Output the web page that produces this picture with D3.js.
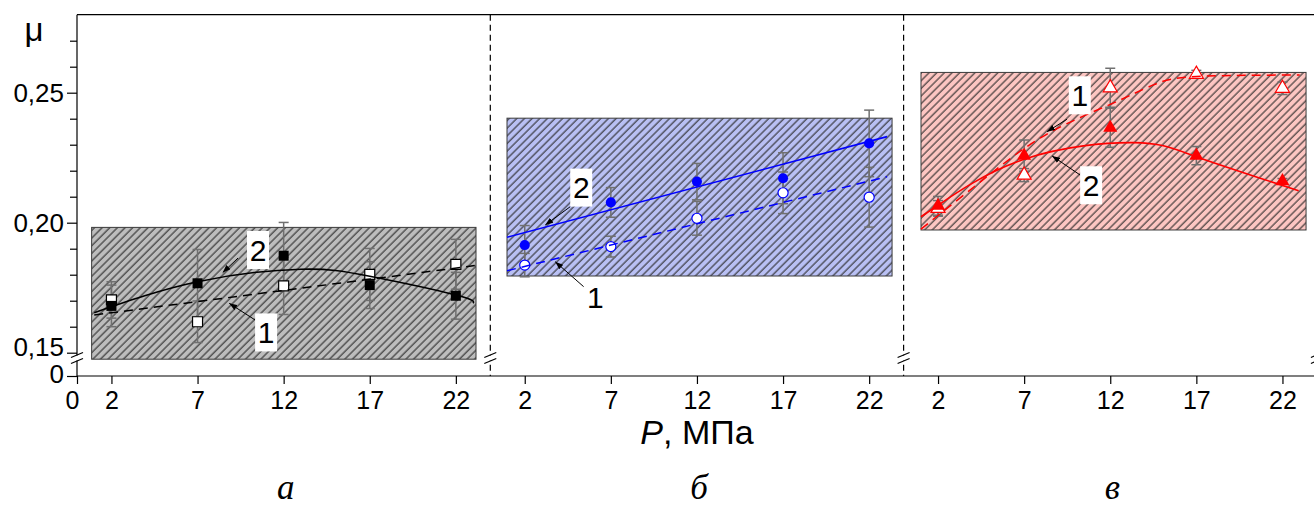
<!DOCTYPE html>
<html>
<head>
<meta charset="utf-8">
<script src="https://cdn.jsdelivr.net/npm/d3@7"></script>
<style>
    body { margin: 0; background: #fff; }
    svg { display: block; font-family: "Liberation Sans", Arial, sans-serif; }
</style>
</head>
<body>
<svg id="chart" width="1314" height="508"></svg>
<script>
// pressure points, MPa
const pressure = [2, 7, 12, 17, 22];
const xTickValues = [2, 7, 12, 17, 22];
const yMajorTicks = [0.15, 0.20, 0.25];
const yMinorTicks = [0.16, 0.17, 0.18, 0.19, 0.21, 0.22, 0.23, 0.24, 0.26, 0.27];
const panelLetters = ['а', 'б', 'в'];

// panel a (gray): 1 = open squares, 2 = filled squares
const muA1 = [0.1703, 0.1619, 0.1757, 0.1801, 0.1840];
const errA1 = [0.0070, 0.0080, 0.0110, 0.0100, 0.0096];
const muA2 = [0.1680, 0.1767, 0.1873, 0.1760, 0.1719];
const errA2 = [0.0080, 0.0130, 0.0128, 0.0090, 0.0090];
const fitA1 = [[1.0, 0.1645], [23.1, 0.1835]];
const fitA2 = [[1.0, 0.1654], [7, 0.1773], [13, 0.1821], [17, 0.1794], [22, 0.1722], [23, 0.1690]];
const bandA = [0.85, 23.17, 0.1475, 0.1982];

// panel b (blue): 1 = open circles, 2 = filled circles
const muB1 = [0.1837, 0.1908, 0.2017, 0.2115, 0.2098];
const errB1 = [0.0045, 0.0040, 0.0065, 0.0080, 0.0115];
const muB2 = [0.1914, 0.2078, 0.2158, 0.2171, 0.2305];
const errB2 = [0.0075, 0.0057, 0.0070, 0.0098, 0.0128];
const fitB1 = [[0.97, 0.1815], [23.04, 0.2177]];
const fitB2 = [[0.97, 0.1944], [23.04, 0.2331]];
const bandB = [0.97, 23.33, 0.1795, 0.2402];

// panel c (red): 1 = open triangles, 2 = filled triangles
const muC1 = [0.2055, 0.2183, 0.2519, 0.2571, 0.2517];
const errC1 = [0.0030, 0.0025, 0.0075, 0.0015, 0.0024];
const muC2 = [0.2065, 0.2258, 0.2365, 0.2258, 0.2160];
const errC2 = [0.0036, 0.0060, 0.0075, 0.0035, 0.0010];
const fitC1 = [[1.0, 0.1975], [4.84, 0.2177], [8.33, 0.2341], [12, 0.2455], [14.5, 0.2530], [17, 0.2562], [23, 0.2568]];
const fitC2 = [[1.0, 0.2023], [2, 0.2067], [7, 0.2244], [13.4, 0.2308], [17, 0.2254], [22.94, 0.2123]];
const bandC = [1.01, 23.37, 0.1972, 0.2578];

// curve labels: [text, P, mu] and arrows: [P from, mu from, P to, mu to]
const labelsA = [['2', 10.51, 0.1895], ['1', 10.98, 0.1578]];
const arrowsA = [[9.35, 0.1864, 8.46, 0.1808], [10.34, 0.1626, 8.84, 0.1690]];
const labelsB = [['2', 5.28, 0.2135], ['1', 6.10, 0.1715]];
const arrowsB = [[4.65, 0.2062, 3.19, 0.1991], [5.42, 0.1754, 3.77, 0.1850]];
const labelsC = [['1', 10.23, 0.2490], ['2', 10.89, 0.2144]];
const arrowsC = [[9.49, 0.2398, 8.33, 0.2350], [10.26, 0.2183, 8.62, 0.2257]];

const svg = d3.select('#chart');
const left = 77;
const panelW = 413.3;
const plotTop = 14.7;
const yBottom = 352.7;
const zeroY = 376;
const rightEdge = left + 3 * panelW;

const y = d3.scaleLinear().domain([0.15, 0.28]).range([yBottom, plotTop]);
const yZero = d3.scaleLinear().domain([0, 0.01]).range([zeroY, zeroY - 10]);

const defs = svg.append('defs');

function hatch(id, color) {
    const p = defs.append('pattern')
        .attr('id', id)
        .attr('patternUnits', 'userSpaceOnUse')
        .attr('width', 5.4)
        .attr('height', 10)
        .attr('patternTransform', 'rotate(45)');
    p.append('rect').attr('width', 5.4).attr('height', 10).attr('fill', color);
    p.append('line')
        .attr('x1', 1).attr('x2', 1).attr('y1', 0).attr('y2', 10)
        .attr('stroke', '#262626').attr('stroke-width', 1.05);
}

defs.append('marker')
    .attr('id', 'arrow')
    .attr('viewBox', '0 0 8 6')
    .attr('refX', 8).attr('refY', 3)
    .attr('markerWidth', 8).attr('markerHeight', 6)
    .attr('markerUnits', 'userSpaceOnUse')
    .attr('orient', 'auto')
    .append('path').attr('d', 'M0,0 L8,3 L0,6 Z').attr('fill', '#000');

const panels = [
    { id: 'hA', fill: '#bdbdbd', color: '#000', shape: d3.symbolSquare, size: 100,
      band: bandA, mu1: muA1, err1: errA1, mu2: muA2, err2: errA2, fit1: fitA1, fit2: fitA2,
      labels: labelsA, arrows: arrowsA },
    { id: 'hB', fill: '#b9c0f4', color: '#0000ff', shape: d3.symbolCircle, size: 80,
      band: bandB, mu1: muB1, err1: errB1, mu2: muB2, err2: errB2, fit1: fitB1, fit2: fitB2,
      labels: labelsB, arrows: arrowsB },
    { id: 'hC', fill: '#fdc6c2', color: '#ff0000', shape: d3.symbolTriangle, size: 85,
      band: bandC, mu1: muC1, err1: errC1, mu2: muC2, err2: errC2, fit1: fitC1, fit2: fitC2,
      labels: labelsC, arrows: arrowsC }
];

panels.forEach((pn, i) => {
    hatch(pn.id, pn.fill);
    const x0 = left + i * panelW;
    const x = d3.scaleLinear().domain([0, 24]).range([x0, x0 + panelW]);
    const g = svg.append('g');

    // hatched range box
    g.append('rect')
        .attr('x', x(pn.band[0]))
        .attr('y', y(pn.band[3]))
        .attr('width', x(pn.band[1]) - x(pn.band[0]))
        .attr('height', y(pn.band[2]) - y(pn.band[3]))
        .attr('fill', `url(#${pn.id})`)
        .attr('stroke', '#3a3a3a')
        .attr('stroke-width', 1);

    // error bars
    [[pn.mu1, pn.err1], [pn.mu2, pn.err2]].forEach(([mu, err]) => {
        const eg = g.append('g').attr('stroke', '#707070').attr('stroke-width', 1.5);
        pressure.forEach((p, k) => {
            const cx = x(p);
            const y1 = y(mu[k] - err[k]);
            const y2 = y(mu[k] + err[k]);
            eg.append('line').attr('x1', cx).attr('x2', cx).attr('y1', y1).attr('y2', y2);
            eg.append('line').attr('x1', cx - 5).attr('x2', cx + 5).attr('y1', y1).attr('y2', y1);
            eg.append('line').attr('x1', cx - 5).attr('x2', cx + 5).attr('y1', y2).attr('y2', y2);
        });
    });

    const sym = d3.symbol().type(pn.shape).size(pn.size);

    // series 1: open markers
    g.selectAll('.open')
        .data(pressure)
        .enter()
        .append('path')
        .attr('d', sym)
        .attr('transform', (p, k) => `translate(${x(p)},${y(pn.mu1[k])})`)
        .attr('fill', '#fff')
        .attr('stroke', pn.color)
        .attr('stroke-width', 1.2);

    // series 2: filled markers
    g.selectAll('.filled')
        .data(pressure)
        .enter()
        .append('path')
        .attr('d', sym)
        .attr('transform', (p, k) => `translate(${x(p)},${y(pn.mu2[k])})`)
        .attr('fill', pn.color);

    const line = d3.line()
        .x(d => x(d[0]))
        .y(d => y(d[1]))
        .curve(d3.curveNatural);

    g.append('path')
        .attr('d', line(pn.fit1))
        .attr('fill', 'none')
        .attr('stroke', pn.color)
        .attr('stroke-width', 1.5)
        .attr('stroke-dasharray', '9,6');

    g.append('path')
        .attr('d', line(pn.fit2))
        .attr('fill', 'none')
        .attr('stroke', pn.color)
        .attr('stroke-width', 1.6);

    // arrows and number labels
    pn.arrows.forEach(a => {
        g.append('line')
            .attr('x1', x(a[0])).attr('y1', y(a[1]))
            .attr('x2', x(a[2])).attr('y2', y(a[3]))
            .attr('stroke', '#000')
            .attr('stroke-width', 1)
            .attr('marker-end', 'url(#arrow)');
    });

    pn.labels.forEach(l => {
        const cx = x(l[1]);
        const cy = y(l[2]);
        g.append('rect')
            .attr('x', cx - 11).attr('y', cy - 19)
            .attr('width', 22).attr('height', 38)
            .attr('fill', '#fff');
        g.append('text')
            .attr('x', cx).attr('y', cy)
            .attr('dy', '0.36em')
            .attr('text-anchor', 'middle')
            .style('font-size', '30px')
            .text(l[0]);
    });

    // x axis ticks for this panel
    const ax = g.append('g')
        .attr('transform', `translate(0,${zeroY})`)
        .call(d3.axisBottom(x)
            .tickValues(i === 0 ? [0].concat(xTickValues) : xTickValues)
            .tickSize(8)
            .tickPadding(7));
    ax.select('.domain').remove();
    ax.selectAll('line').attr('stroke', '#000').attr('stroke-width', 1.2);
    ax.selectAll('text')
        .style('font-size', '25px')
        .attr('fill', '#000')
        .attr('dx', d => d === 0 ? '-5' : '0');

    // panel letter under the panel
    svg.append('text')
        .attr('x', x(12) + 2)
        .attr('y', 499)
        .attr('text-anchor', 'middle')
        .style('font-family', '"Liberation Serif", "Times New Roman", serif')
        .style('font-style', 'italic')
        .style('font-size', '35px')
        .text(panelLetters[i]);
});

// break marks on vertical lines
function breakMark(bx) {
    svg.append('rect')
        .attr('x', bx - 3).attr('y', 355.5)
        .attr('width', 6).attr('height', 5)
        .attr('fill', '#fff');
    [0, 6].forEach(off => {
        svg.append('line')
            .attr('x1', bx - 6).attr('y1', 357.5 + off)
            .attr('x2', bx + 6).attr('y2', 352.5 + off)
            .attr('stroke', '#000')
            .attr('stroke-width', 1.2);
    });
}

// frame: top line, dividers, x axis line
svg.append('line')
    .attr('x1', left).attr('x2', rightEdge)
    .attr('y1', plotTop).attr('y2', plotTop)
    .attr('stroke', '#000').attr('stroke-width', 1.2);

[1, 2].forEach(k => {
    svg.append('line')
        .attr('x1', left + k * panelW).attr('x2', left + k * panelW)
        .attr('y1', plotTop).attr('y2', zeroY)
        .attr('stroke', '#000')
        .attr('stroke-width', 1.2)
        .attr('stroke-dasharray', '6,4');
});

svg.append('line')
    .attr('x1', left).attr('x2', rightEdge)
    .attr('y1', zeroY).attr('y2', zeroY)
    .attr('stroke', '#000').attr('stroke-width', 1.2);

svg.append('line')
    .attr('x1', left).attr('x2', left)
    .attr('y1', plotTop).attr('y2', zeroY)
    .attr('stroke', '#000').attr('stroke-width', 1.2);

[0, 1, 2, 3].forEach(k => breakMark(left + k * panelW));

// y axis
const yAxis = svg.append('g')
    .attr('transform', `translate(${left},0)`)
    .call(d3.axisLeft(y)
        .tickValues(yMajorTicks)
        .tickSize(10)
        .tickPadding(3)
        .tickFormat(d => d3.format('.2f')(d).replace('.', ',')));
yAxis.select('.domain').remove();
yAxis.selectAll('text').attr('dy', d => d === 0.15 ? '0.12em' : '0.32em');

const yMinor = svg.append('g')
    .attr('transform', `translate(${left},0)`)
    .call(d3.axisLeft(y).tickValues(yMinorTicks).tickSize(7).tickFormat(''));
yMinor.select('.domain').remove();

const yAxisZero = svg.append('g')
    .attr('transform', `translate(${left},0)`)
    .call(d3.axisLeft(yZero).tickValues([0]).tickSize(10).tickPadding(3).tickFormat(d => '0'));
yAxisZero.select('.domain').remove();
yAxisZero.selectAll('text').attr('dy', '0.26em');

svg.selectAll('.tick line').attr('stroke', '#000').attr('stroke-width', 1.2);
[yAxis, yAxisZero].forEach(a => a.selectAll('text').style('font-size', '26px').attr('fill', '#000'));

svg.append('text')
    .attr('x', 34)
    .attr('y', 41)
    .attr('text-anchor', 'middle')
    .style('font-size', '33px')
    .text('μ');

// x axis title
const xTitle = svg.append('text')
    .attr('x', left + panelW + (12 / 24) * panelW)
    .attr('y', 444)
    .attr('text-anchor', 'middle')
    .style('font-size', '34px');
xTitle.append('tspan').style('font-style', 'italic').text('P');
xTitle.append('tspan').text(', МПа');
</script>
</body>
</html>
